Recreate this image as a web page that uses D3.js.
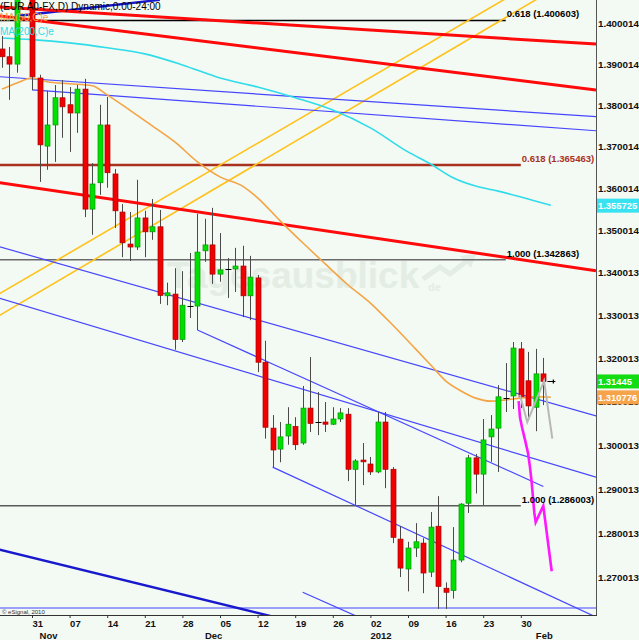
<!DOCTYPE html>
<html>
<head>
<meta charset="utf-8">
<script src="https://cdn.jsdelivr.net/npm/d3@7"></script>
<style>
  body { margin: 0; background: #f3f9f3; }
  svg { display: block; font-family: "Liberation Sans", Arial, sans-serif; }
</style>
</head>
<body>
<svg id="chart" width="639" height="640"></svg>
<script>
(function(d3) {
  'use strict';

  // trading calendar (weekdays) shown on the time axis
  var calendarStart = '2011-10-24';
  var calendarEnd = '2012-02-14';

  // daily EUR/USD candles, first one on 2011-10-25
  var candleStart = '2011-10-25';
  var opens = [1.3936, 1.3917, 1.3899, 1.4120, 1.4140, 1.3865, 1.3700, 1.3751, 1.3817, 1.3800,
    1.3780, 1.3838, 1.3549, 1.3612, 1.3751, 1.3633, 1.3542, 1.3466, 1.3459, 1.3528,
    1.3495, 1.3507, 1.3344, 1.3348, 1.3242, 1.3320, 1.3320, 1.3450, 1.3464, 1.3395,
    1.3407, 1.3407, 1.3414, 1.3344, 1.3386, 1.3189, 1.3037, 1.2989, 1.3019, 1.3041,
    1.3003, 1.3083, 1.3051, 1.3051, 1.3046, 1.3058, 1.3069, 1.2943, 1.2964, 1.2955,
    1.2937, 1.3051, 1.2943, 1.2785, 1.2718, 1.2765, 1.2776, 1.2711, 1.2814, 1.2675,
    1.2670, 1.2738, 1.2866, 1.2969, 1.2932, 1.3017, 1.3037, 1.3106, 1.3111, 1.3220,
    1.3146, 1.3085, 1.3162];
  var highs = [1.3968, 1.3941, 1.4180, 1.4230, 1.4160, 1.3873, 1.3834, 1.3848, 1.3860, 1.3843,
    1.3848, 1.3863, 1.3659, 1.3800, 1.3819, 1.3645, 1.3561, 1.3542, 1.3619, 1.3545,
    1.3573, 1.3547, 1.3375, 1.3409, 1.3402, 1.3445, 1.3538, 1.3526, 1.3552, 1.3492,
    1.3433, 1.3457, 1.3462, 1.3438, 1.3393, 1.3239, 1.3067, 1.3051, 1.3085, 1.3062,
    1.3134, 1.3201, 1.3120, 1.3097, 1.3085, 1.3083, 1.3083, 1.2966, 1.3003, 1.2971,
    1.3074, 1.3074, 1.2948, 1.2814, 1.2779, 1.2821, 1.2787, 1.2846, 1.2882, 1.2688,
    1.2812, 1.2866, 1.2976, 1.2978, 1.3058, 1.3067, 1.3136, 1.3187, 1.3236, 1.3236,
    1.3213, 1.3220, 1.3199];
  var lows = [1.3890, 1.3812, 1.3878, 1.4090, 1.3836, 1.3614, 1.3643, 1.3662, 1.3720, 1.3686,
    1.3732, 1.3530, 1.3488, 1.3583, 1.3600, 1.3504, 1.3435, 1.3426, 1.3452, 1.3435,
    1.3476, 1.3325, 1.3322, 1.3218, 1.3236, 1.3292, 1.3264, 1.3424, 1.3372, 1.3377,
    1.3339, 1.3353, 1.3294, 1.3287, 1.3166, 1.3013, 1.2948, 1.2959, 1.2999, 1.2987,
    1.2999, 1.3028, 1.3021, 1.3028, 1.3044, 1.3051, 1.2916, 1.2862, 1.2907, 1.2930,
    1.2934, 1.2900, 1.2776, 1.2700, 1.2668, 1.2745, 1.2664, 1.2700, 1.2629, 1.2629,
    1.2652, 1.2733, 1.2844, 1.2888, 1.2862, 1.2960, 1.2937, 1.3074, 1.3081, 1.3083,
    1.3062, 1.3030, 1.3090];
  var closes = [1.3917, 1.3899, 1.4120, 1.4140, 1.3868, 1.3703, 1.3751, 1.3817, 1.3795, 1.3780,
    1.3838, 1.3549, 1.3609, 1.3751, 1.3636, 1.3545, 1.3469, 1.3459, 1.3528, 1.3495,
    1.3507, 1.3345, 1.3351, 1.3242, 1.3322, 1.3320, 1.3447, 1.3464, 1.3395, 1.3405,
    1.3407, 1.3414, 1.3344, 1.3388, 1.3189, 1.3039, 1.2987, 1.3017, 1.3046, 1.2999,
    1.3083, 1.3048, 1.3051, 1.3046, 1.3058, 1.3072, 1.2943, 1.2962, 1.2960, 1.2937,
    1.3051, 1.2943, 1.2789, 1.2720, 1.2765, 1.2779, 1.2709, 1.2812, 1.2679, 1.2666,
    1.2738, 1.2864, 1.2969, 1.2932, 1.3010, 1.3035, 1.3109, 1.3106, 1.3222, 1.3109,
    1.3088, 1.3162, 1.31445];

  // moving averages, sampled on trading-day numbers (0 = 2011-10-24)
  var ma50Day = [1, 3, 5, 7, 10, 13, 15, 18, 21, 24, 27, 30, 33, 35, 38, 41, 44, 47, 50, 53,
    56, 58, 60, 62, 64, 66, 68, 70, 72, 74];
  var ma50 = [1.3838, 1.3853, 1.3865, 1.3856, 1.3851, 1.3846, 1.3824, 1.3787, 1.3749, 1.3710,
    1.3662, 1.3626, 1.3604, 1.3576, 1.3521, 1.3469, 1.3419, 1.3370, 1.3327, 1.3275,
    1.3220, 1.3183, 1.3146, 1.3123, 1.3106, 1.3099, 1.3102, 1.3106, 1.3109, 1.3108];
  var ma200Day = [1, 5, 10, 15, 20, 25, 30, 35, 40, 45, 50, 55, 58, 61, 64, 67, 70, 74];
  var ma200 = [1.3963, 1.3959, 1.3951, 1.3939, 1.3924, 1.3897, 1.3865, 1.3843, 1.3817, 1.3787,
    1.3744, 1.3686, 1.3657, 1.3624, 1.3604, 1.3592, 1.3578, 1.3558];

  // hand drawn trend lines: [date, price] pairs
  var redLines = [
    [['2011-10-24', 1.4040], ['2012-02-13', 1.3948]],
    [['2011-10-24', 1.4019], ['2012-02-13', 1.3836]],
    [['2011-10-24', 1.3614], ['2012-02-13', 1.3403]]
  ];
  var yellowLines = [
    [['2011-10-24', 1.3342], ['2012-01-27', 1.4071]],
    [['2011-10-24', 1.3291], ['2012-02-08', 1.4112]]
  ];
  var blueLines = [
    [['2011-10-24', 1.3869], ['2012-02-13', 1.3771]],
    [['2011-10-31', 1.3836], ['2012-02-13', 1.3737]],
    [['2011-10-24', 1.3463], ['2012-02-13', 1.3065]],
    [['2011-10-24', 1.3342], ['2012-02-13', 1.2925]],
    [['2011-11-30', 1.3264], ['2012-02-02', 1.2904]],
    [['2011-12-14', 1.2948], ['2012-02-13', 1.2611]],
    [['2011-12-20', 1.2666], ['2011-12-29', 1.2614]],
    [['2011-10-24', 1.2631], ['2012-02-13', 1.2631]]
  ];
  var darkBlueLines = [
    [['2011-10-27', 1.4017], ['2011-11-23', 1.4057]],
    [['2011-10-24', 1.2764], ['2011-12-14', 1.2612]]
  ];

  // Fibonacci levels
  var fibLabels = ['0.618', '1.000', '0.618', '1.000'];
  var fibValues = [1.400603, 1.342863, 1.365463, 1.286003];
  var fibEnds = ['2012-01-26', '2012-01-26', '2012-01-30', '2012-01-30'];

  // projected paths (fractional trading-day numbers)
  var magentaPath = [[69.72, 1.3099], [69.89, 1.3062], [70.16, 1.3039], [70.56, 1.3010],
    [70.96, 1.2980], [71.22, 1.2948], [71.42, 1.2918], [71.62, 1.2879], [71.80, 1.2844],
    [71.98, 1.2823], [72.99, 1.2860], [74.11, 1.2713]];
  var grayPath = [[69.89, 1.3113], [70.86, 1.3051], [73.09, 1.3146], [74.19, 1.3013]];

  // price axis
  var priceTickLabels = ['1.400014', '1.390014', '1.380014', '1.370014', '1.360014', '1.350014',
    '1.340013', '1.330013', '1.320013', '1.310013', '1.300013', '1.290013', '1.280013', '1.270013'];
  var lastLabels = ['1.355725', '1.31445', '1.310776'];

  var plotW = 596, plotH = 615;
  var svg = d3.select('#chart');

  var parseDay = d3.timeParse('%Y-%m-%d');
  var calendar = d3.timeDay.range(parseDay(calendarStart), parseDay(calendarEnd))
    .filter(function(d) { return d.getDay() > 0 && d.getDay() < 6; });
  function dayK(v) {
    if (typeof v === 'number') return v;
    var t = +parseDay(v);
    return calendar.findIndex(function(d) { return +d === t; });
  }

  var x = d3.scaleLinear().domain([0, calendar.length - 1]).range([-5.6, plotW]);
  var y = d3.scaleLog().domain([1.26155, 1.40566]).range([plotH, 0]);

  var k0 = dayK(candleStart);
  var candles = opens.map(function(o, i) {
    return { k: k0 + i, open: o, high: highs[i], low: lows[i], close: closes[i] };
  });
  var lastK = k0 + opens.length - 1;

  svg.append('rect').attr('width', 639).attr('height', 640).attr('fill', '#f3f9f3');

  svg.append('clipPath').attr('id', 'plot-clip')
    .append('rect').attr('width', plotW).attr('height', plotH);
  var plot = svg.append('g').attr('clip-path', 'url(#plot-clip)');

  // watermark
  var wm = plot.append('g').attr('fill', '#e4ede4');
  wm.append('text').attr('x', 167).attr('y', 288)
    .style('font-size', '37px').style('font-weight', 'bold').text('Tagesausblick');
  wm.append('text').attr('x', 428).attr('y', 291)
    .style('font-size', '11px').style('font-weight', 'bold').text('de');
  wm.append('polyline').attr('points', '423,279 440,267 450,274 468,260')
    .attr('fill', 'none').attr('stroke', '#e4ede4').attr('stroke-width', 5);
  wm.append('path').attr('d', 'M460,256 L476,254 L471,268 Z');

  var seg = d3.line()
    .x(function(d) { return x(dayK(d[0])); })
    .y(function(d) { return y(d[1]); });

  // fib levels
  var fibColors = ['#000000', '#6a6a6a', '#a8321f', '#5a5a5a'];
  var fibWidths = [1.5, 1.5, 2.5, 1.5];
  fibValues.forEach(function(v, i) {
    plot.append('path')
      .attr('d', seg([[0, v], [fibEnds[i], v]]))
      .attr('stroke', fibColors[i]).attr('stroke-width', fibWidths[i]).attr('fill', 'none');
  });

  function drawLines(list, color, width) {
    plot.selectAll(null).data(list).enter().append('path')
      .attr('d', seg)
      .attr('fill', 'none')
      .attr('stroke', color)
      .attr('stroke-width', width);
  }
  drawLines(yellowLines, '#ffc21a', 1.6);
  drawLines(blueLines, '#4646ff', 1.2);
  drawLines(darkBlueLines, '#1818cc', 2.4);
  drawLines(redLines, '#ff0a0a', 3);

  var maLine = function(days) {
    return d3.line().curve(d3.curveMonotoneX)
      .x(function(d, i) { return x(days[i]); })
      .y(function(d) { return y(d); });
  };
  plot.append('path').attr('d', maLine(ma200Day)(ma200))
    .attr('fill', 'none').attr('stroke', '#2fdcea').attr('stroke-width', 1.6);
  plot.append('path').attr('d', maLine(ma50Day)(ma50))
    .attr('fill', 'none').attr('stroke', '#f4a444').attr('stroke-width', 1.6);

  // candles
  var cx = function(d) { return Math.round(x(d.k)); };
  var cg = plot.append('g');
  cg.selectAll('.wick').data(candles).enter().append('line')
    .attr('x1', function(d) { return cx(d) + 0.5; })
    .attr('x2', function(d) { return cx(d) + 0.5; })
    .attr('y1', function(d) { return y(d.high); })
    .attr('y2', function(d) { return y(d.low); })
    .attr('stroke', '#4a4a4a').attr('stroke-width', 1);
  cg.selectAll('.body').data(candles.filter(function(d) { return d.open !== d.close; }))
    .enter().append('rect')
    .attr('x', function(d) { return cx(d) - 2; })
    .attr('width', 5)
    .attr('y', function(d) { return y(Math.max(d.open, d.close)); })
    .attr('height', function(d) { return Math.max(1.5, Math.abs(y(d.open) - y(d.close))); })
    .attr('fill', function(d) { return d.close > d.open ? '#00e000' : '#f00000'; })
    .attr('stroke', function(d) { return d.close > d.open ? '#089408' : '#a80000'; })
    .attr('stroke-width', 0.7);
  cg.selectAll('.doji').data(candles.filter(function(d) { return d.open === d.close; }))
    .enter().append('line')
    .attr('x1', function(d) { return cx(d) - 2.5; })
    .attr('x2', function(d) { return cx(d) + 3.5; })
    .attr('y1', function(d) { return Math.round(y(d.open)) + 0.5; })
    .attr('y2', function(d) { return Math.round(y(d.open)) + 0.5; })
    .attr('stroke', '#000').attr('stroke-width', 1);

  // last price marker
  var lastY = Math.round(y(closes[closes.length - 1])) + 0.5;
  plot.append('path')
    .attr('d', 'M' + (x(lastK) + 4) + ',' + lastY + 'H' + (x(lastK) + 12) +
      'M' + (x(lastK) + 10) + ',' + (lastY - 2) + 'V' + (lastY + 2))
    .attr('stroke', '#000').attr('stroke-width', 1.2);

  // projections
  var proj = d3.line().x(function(d) { return x(d[0]); }).y(function(d) { return y(d[1]); });
  plot.append('path').attr('d', proj(grayPath))
    .attr('fill', 'none').attr('stroke', '#b8b8b8').attr('stroke-width', 2);
  plot.append('path').attr('d', proj(magentaPath))
    .attr('fill', 'none').attr('stroke', '#ff18ff').attr('stroke-width', 2.6);

  // fib labels
  var fibTextColors = ['#000', '#000', '#a8321f', '#000'];
  fibValues.forEach(function(v, i) {
    svg.append('text')
      .attr('x', x(dayK(fibEnds[i])) + 1)
      .attr('y', y(v) - 3)
      .attr('fill', fibTextColors[i])
      .style('font-size', '9.5px').style('font-weight', 'bold')
      .text(fibLabels[i] + ' (' + v.toFixed(6) + ')');
  });

  // legend
  var legend = [
    { text: '(EUR A0-FX,D) Dynamic,0:00-24:00', color: '#000' },
    { text: 'MA(50,C)e', color: '#f4a444' },
    { text: 'MA(200,C)e', color: '#2fdcea' }
  ];
  var legendY = [10, 21, 35];
  svg.selectAll('.legend').data(legend).enter().append('text')
    .attr('x', 0)
    .attr('y', function(d, i) { return legendY[i]; })
    .attr('fill', function(d) { return d.color; })
    .style('font-size', '10px')
    .text(function(d) { return d.text; });

  // frame
  svg.append('line').attr('x1', plotW + 0.5).attr('x2', plotW + 0.5).attr('y1', 0).attr('y2', plotH + 1)
    .attr('stroke', '#555');
  svg.append('line').attr('x1', 0).attr('x2', plotW + 1).attr('y1', plotH + 0.5).attr('y2', plotH + 0.5)
    .attr('stroke', '#333');

  // price axis
  var tickVals = priceTickLabels.map(Number);
  var yAxis = d3.axisRight(y).tickValues(tickVals).tickSize(0).tickPadding(2)
    .tickFormat(function(d, i) { return priceTickLabels[i]; });
  var ya = svg.append('g').attr('transform', 'translate(' + plotW + ',0)').call(yAxis);
  ya.select('.domain').remove();
  ya.selectAll('text').attr('fill', '#111').attr('dy', '0.4em')
    .style('font-size', '9.8px').style('font-weight', 'bold').style('font-family', null);

  // last value boxes
  var boxColors = ['#38e2f0', '#12dc12', '#f6a44c'];
  lastLabels.forEach(function(label, i) {
    var yy = y(Number(label));
    svg.append('rect').attr('x', plotW + 1).attr('y', yy - 7).attr('width', 639 - plotW - 1)
      .attr('height', 14).attr('fill', boxColors[i]);
    svg.append('text').attr('x', plotW + 2).attr('y', yy + 3.5).attr('fill', '#fff')
      .style('font-size', '9.4px').style('font-weight', 'bold').text(label);
  });

  // time axis
  var mondays = [];
  var monthStarts = [];
  calendar.forEach(function(d, k) {
    if (k < 1 || k > lastK) return;
    if (d.getDay() === 1) mondays.push(k);
    if (d.getMonth() !== calendar[k - 1].getMonth()) monthStarts.push(k);
  });
  var xAxis = d3.axisBottom(x).tickValues(mondays).tickSize(3).tickPadding(2)
    .tickFormat(function(k) { return d3.timeFormat('%d')(calendar[k]); });
  var xa = svg.append('g').attr('transform', 'translate(0,' + plotH + ')').call(xAxis);
  xa.select('.domain').remove();
  xa.selectAll('line').attr('stroke', '#333');
  xa.selectAll('text').attr('fill', '#111').attr('text-anchor', 'start')
    .style('font-size', '9.5px').style('font-weight', 'bold').style('font-family', null);

  svg.selectAll('.month').data(monthStarts).enter().append('text')
    .attr('x', function(k) { return x(k); })
    .attr('y', 639)
    .attr('fill', '#111')
    .style('font-size', '9.5px').style('font-weight', 'bold')
    .text(function(k) {
      var d = calendar[k];
      return d.getMonth() === 0 ? d3.timeFormat('%Y')(d) : d3.timeFormat('%b')(d);
    });

  svg.append('text').attr('x', 2).attr('y', 613.5).attr('fill', '#333')
    .style('font-size', '6px').text('\u00a9 eSignal, 2010');

})(window.d3);
</script>
</body>
</html>
